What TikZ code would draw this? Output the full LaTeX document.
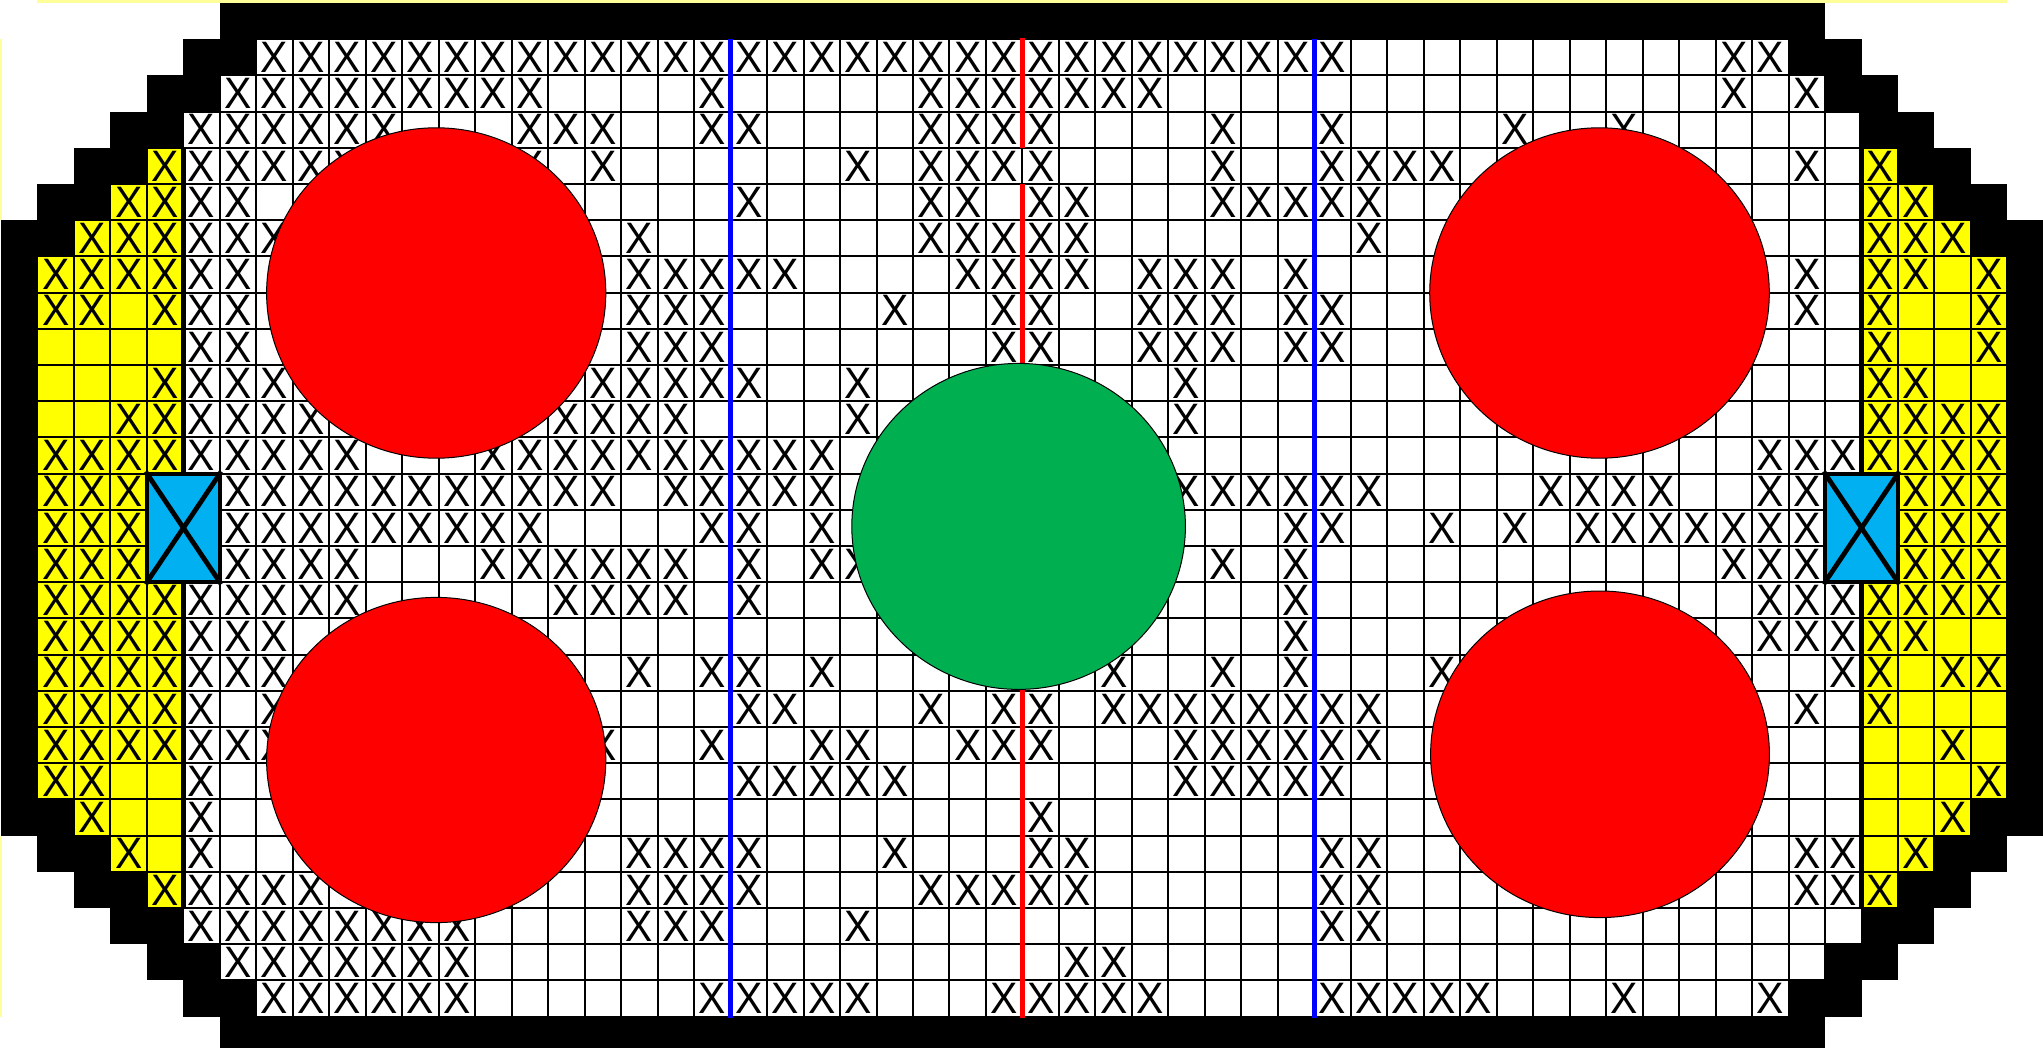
\documentclass[tikz,border=0pt]{standalone}
\usepackage{fontspec}
\setmainfont{Liberation Sans}
\newfontfamily\xfont[FakeStretch=0.93]{Liberation Sans}
\usetikzlibrary{shapes.geometric}
\definecolor{coreyellow}{HTML}{FFFF00}
\definecolor{paleedge}{HTML}{FFFF99}
\definecolor{boxblue}{HTML}{00B0F0}
\definecolor{hotred}{HTML}{FF0000}
\definecolor{midgreen}{HTML}{00B050}
\definecolor{lineblue}{HTML}{0000FF}
\tikzset{
  whitecell/.style={draw=black,line width=1pt,fill=white},
  yellowcell/.style={draw=black,line width=1pt,fill=coreyellow},
  blackcell/.style={fill=black,draw=none},
  xmark/.style={inner sep=0pt,outer sep=0pt,font=\xfont\fontsize{22pt}{22pt}\selectfont,text=black},
  rodbox/.style={draw=black,line width=2pt,fill=boxblue,inner sep=0pt,outer sep=0pt,minimum width=36.48pt,minimum height=54.3pt},
  rodcross/.style={draw=black,line width=2.4pt,line cap=rect},
  wall/.style={draw=black,line width=2.8pt},
  blueline/.style={draw=lineblue,line width=2.8pt},
  redline/.style={draw=hotred,line width=2.8pt},
  redhole/.style={ellipse,draw=black,line width=.5pt,fill=hotred,inner sep=0pt,outer sep=0pt},
  greenhole/.style={ellipse,draw=black,line width=.5pt,fill=midgreen,inner sep=0pt,outer sep=0pt},
}
\newcommand\cellrow[4]{\foreach \k in {#3,...,#4}{\path[#1] (\k,#2) rectangle ++(1,1);}}
\newcommand\xrow[2]{\foreach \ga/\gb in {#2}{\foreach \k in {\ga,...,\gb}{\node[xmark] (x-#1-\k) at (\k+.5,#1+.5) {X};}}}
\begin{document}
\begin{tikzpicture}[x=.5pt,y=-.5pt]
\clip (0,0) rectangle (2043,1048);
\fill[white] (0,0) rectangle (2043,1048);
\begin{scope}[shift={(1,3)},x=18.24pt,y=-18.1pt]
  % pale edges
  \fill[paleedge] (1,-.09) rectangle (55,0);
  \fill[paleedge] (-.03,1) rectangle (.015,6);
  \fill[paleedge] (-.03,23) rectangle (.015,28);
  % white cells
  \cellrow{whitecell}{1}{7}{48}
  \cellrow{whitecell}{2}{6}{49}
  \foreach \r in {3,...,25}{\cellrow{whitecell}{\r}{5}{50}}
  \cellrow{whitecell}{26}{6}{49}
  \cellrow{whitecell}{27}{7}{48}
  % yellow cells
  \foreach \r/\a/\b in {4/4/51,5/3/52,6/2/53,22/2/53,23/3/52,24/4/51}{
    \cellrow{yellowcell}{\r}{\a}{4}
    \cellrow{yellowcell}{\r}{51}{\b}
  }
  \foreach \r in {7,...,21}{
    \cellrow{yellowcell}{\r}{1}{4}
    \cellrow{yellowcell}{\r}{51}{54}
  }
  % black stairs
  \foreach \r/\a/\b in {0/6/50,1/5/7,1/49/51,2/4/6,2/50/52,3/3/5,3/51/53,4/2/4,4/52/54,5/1/3,5/53/55,6/0/2,6/54/56,
    7/0/1,7/55/56,22/0/2,22/54/56,23/1/3,23/53/55,24/2/4,24/52/54,25/3/5,25/51/53,26/4/6,26/50/52,27/5/7,27/49/51,28/6/50}{
    \path[blackcell] (\a,\r) rectangle (\b,\r+1);
  }
  \path[blackcell] (0,7) rectangle (1,22);
  \path[blackcell] (55,7) rectangle (56,22);
  % walls between yellow and white
  \coordinate (wl1) at (5,4); \coordinate (wl2) at (5,13);
  \coordinate (wl3) at (5,16); \coordinate (wl4) at (5,25);
  \coordinate (wr1) at (51,3); \coordinate (wr2) at (51,13);
  \coordinate (wr3) at (51,16); \coordinate (wr4) at (51,25);
  \draw[wall] (wl1) -- (wl2); \draw[wall] (wl3) -- (wl4);
  \draw[wall] (wr1) -- (wr2); \draw[wall] (wr3) -- (wr4);
  % X marks: first/last column of each run
  \xrow{1}{7/36,47/48}
  \xrow{2}{6/14,19/19,25/31,47/47,49/49}
  \xrow{3}{5/10,14/16,19/20,25/28,33/33,36/36,41/41,44/44}
  \xrow{4}{4/9,14/14,16/16,23/23,25/28,33/33,36/39,49/49,51/51}
  \xrow{5}{3/6,20/20,25/26,28/29,33/37,51/52}
  \xrow{6}{2/7,17/17,25/29,37/37,51/53}
  \xrow{7}{1/6,17/21,26/29,31/33,35/35,49/49,51/52,54/54}
  \xrow{8}{1/2,4/6,17/19,24/24,27/28,31/33,35/36,49/49,51/51,54/54}
  \xrow{9}{5/6,17/19,27/28,31/33,35/36,51/51,54/54}
  \xrow{10}{4/7,16/20,23/23,32/32,51/52}
  \xrow{11}{3/8,15/18,23/23,32/32,51/54}
  \xrow{12}{1/9,13/22,48/54}
  \xrow{13}{1/3,6/16,18/22,32/37,42/45,48/49,52/54}
  \xrow{14}{1/3,6/14,19/20,22/22,35/36,39/39,41/41,43/49,52/54}
  \xrow{15}{1/3,6/9,13/18,20/20,22/23,33/33,35/35,47/49,52/54}
  \xrow{16}{1/9,15/18,20/20,35/35,48/54}
  \xrow{17}{1/7,35/35,48/52}
  \xrow{18}{1/7,17/17,19/20,22/22,30/30,33/33,35/35,39/39,50/51,53/54}
  \xrow{19}{1/5,7/7,20/21,25/25,27/28,30/37,49/49,51/51}
  \xrow{20}{1/7,16/16,19/19,22/23,26/28,32/37,53/53}
  \xrow{21}{1/2,5/5,20/24,32/36,54/54}
  \xrow{22}{2/2,5/5,28/28,53/53}
  \xrow{23}{3/3,5/5,17/20,24/24,28/29,36/37,49/50,52/52}
  \xrow{24}{4/8,17/20,25/29,36/37,49/51}
  \xrow{25}{5/12,17/19,23/23,36/37}
  \xrow{26}{6/12,29/30}
  \xrow{27}{7/12,19/23,27/31,36/40,44/44,48/48}
  % vertical channel lines
  \coordinate (b1t) at (20,1); \coordinate (b1b) at (20,28.03);
  \coordinate (b2t) at (36,1); \coordinate (b2b) at (36,28.03);
  \coordinate (r1t) at (28,.97); \coordinate (r1b) at (28,4);
  \coordinate (r2t) at (28,5); \coordinate (r2b) at (28,28.03);
  \draw[blueline] (b1t) -- (b1b);
  \draw[blueline] (b2t) -- (b2b);
  \draw[redline] (r1t) -- (r1b);
  \draw[redline] (r2t) -- (r2b);
  % blue boxes
  \node[rodbox] (lbox) at (5,14.5) {};
  \node[rodbox] (rbox) at (51,14.5) {};
  \draw[rodcross] (lbox.north west) -- (lbox.south east);
  \draw[rodcross] (lbox.north east) -- (lbox.south west);
  \draw[rodcross] (rbox.north west) -- (rbox.south east);
  \draw[rodcross] (rbox.north east) -- (rbox.south west);
\end{scope}
\node[redhole,minimum width=169.6pt,minimum height=165.2pt] (tl) at (436.2,293) {};
\node[redhole,minimum width=169.8pt,minimum height=165.2pt] (tr) at (1599.5,293) {};
\node[redhole,minimum width=169.6pt,minimum height=162.6pt] (bl) at (436.2,760) {};
\node[redhole,minimum width=169.4pt,minimum height=163.3pt] (br) at (1600,754.3) {};
\node[greenhole,minimum width=166.8pt,minimum height=163pt] (core) at (1018.6,526.4) {};
\end{tikzpicture}
\end{document}
